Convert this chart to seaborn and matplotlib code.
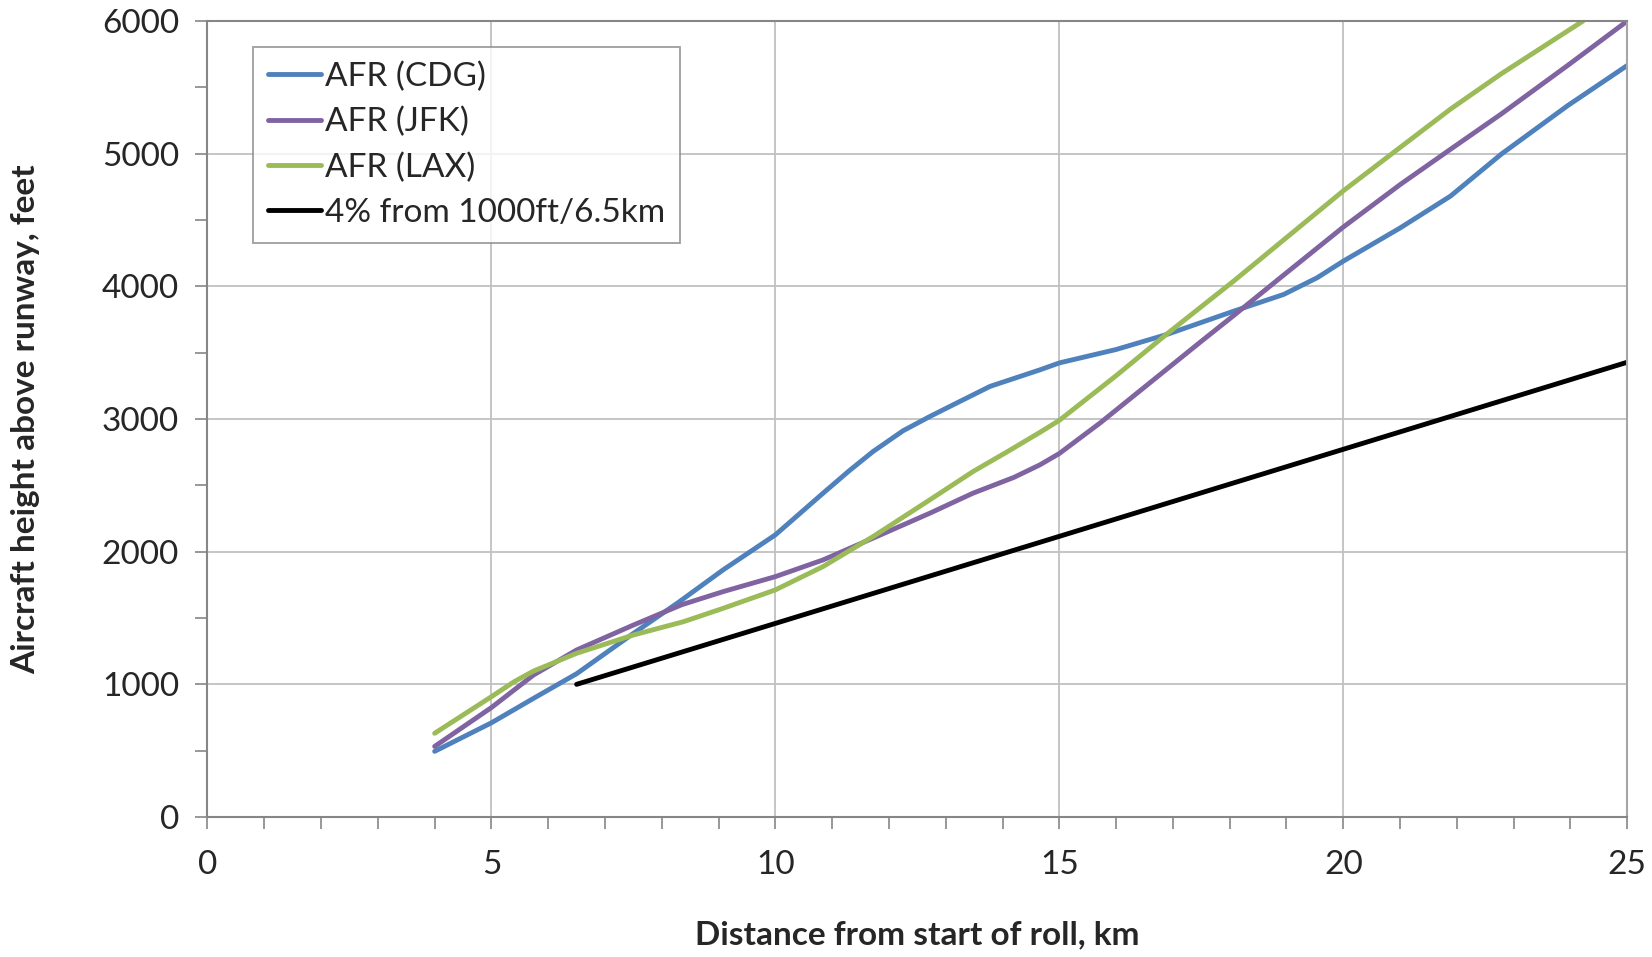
import pandas as pd
import numpy as np
import matplotlib
matplotlib.use("Agg")
import matplotlib.pyplot as plt
from matplotlib.ticker import MultipleLocator
import seaborn as sns

sns.set_style("white")
plt.rcParams['font.family'] = ['Lato', 'DejaVu Sans']

# values (km, feet)
cdg_km = [4, 5, 5.74, 6.5, 7.5, 8.3, 9.08, 10, 10.84, 11.3, 11.72, 12.25, 12.72, 13.19, 13.78,
          14.66, 15, 16, 16.89, 18.07, 18.95, 19.54, 20, 21, 21.89, 22.78, 23.95, 25]
cdg_ft = [495, 710, 894, 1080, 1384, 1620, 1863, 2127, 2441, 2610, 2755, 2912, 3019, 3120, 3246,
          3371, 3423, 3524, 3637, 3813, 3939, 4065, 4190, 4440, 4681, 4996, 5362, 5665]

jfk_km = [4, 5, 5.74, 6.5, 7.5, 8.35, 9.08, 10, 10.84, 11.72, 12.72, 13.48, 14.2, 14.66, 15,
          15.72, 16.6, 17.48, 18.07, 18.95, 20, 21.01, 21.89, 22.78, 23.95, 25]
jfk_ft = [532, 825, 1070, 1259, 1447, 1600, 1699, 1812, 1938, 2102, 2290, 2441, 2560, 2655, 2740,
          2971, 3275, 3579, 3780, 4085, 4447, 4770, 5034, 5299, 5665, 6000]

lax_km = [4, 5, 5.4, 5.74, 6.5, 7.5, 8.38, 9.08, 10, 10.84, 11.72, 12.72, 13.48, 14.07, 14.66, 15,
          16.01, 16.89, 18.07, 18.95, 20, 21.01, 21.89, 22.78, 24.22]
lax_ft = [631, 907, 1020, 1100, 1234, 1372, 1472, 1573, 1712, 1888, 2114, 2391, 2604, 2750, 2900,
          2990, 3330, 3640, 4040, 4350, 4720, 5050, 5337, 5602, 6000]

ref_km = [6.5, 25]
ref_ft = [1000, 3428]

names = ['AFR (CDG)', 'AFR (JFK)', 'AFR (LAX)', '4% from 1000ft/6.5km']
colors = ['#4F81BD', '#8064A2', '#9BBB59', '#000000']

frames = []
for name, xs, ys in zip(names, [cdg_km, jfk_km, lax_km, ref_km], [cdg_ft, jfk_ft, lax_ft, ref_ft]):
    frames.append(pd.DataFrame({'km': xs, 'ft': ys, 'series': name}))
df = pd.concat(frames, ignore_index=True)

fig = plt.figure(figsize=(16.52, 9.57), dpi=100)
ax = fig.add_axes([0.1256, 0.1463, 0.8594, 0.8317])

ax.grid(True, which='major', color='#C0C0C0', linewidth=1.3)
ax.set_axisbelow(True)

sns.lineplot(data=df, x='km', y='ft', hue='series', hue_order=names,
             palette=dict(zip(names, colors)), estimator=None, sort=False,
             linewidth=3.5, ax=ax)
for line in ax.get_lines():
    line.set_solid_capstyle('round')
    line.set_solid_joinstyle('round')

ax.set_xlim(0, 25)
ax.set_ylim(0, 6000)
ax.xaxis.set_major_locator(MultipleLocator(5))
ax.xaxis.set_minor_locator(MultipleLocator(1))
ax.yaxis.set_major_locator(MultipleLocator(1000))
ax.yaxis.set_minor_locator(MultipleLocator(500))
ax.tick_params(which='both', direction='out', length=8.5, width=1.2, color='#868686',
               labelsize=24, bottom=True, left=True)
ax.tick_params(axis='x', pad=15)
ax.tick_params(axis='y', pad=12)

for side in ['left', 'bottom', 'top']:
    ax.spines[side].set_color('#868686')
    ax.spines[side].set_linewidth(1.5)
ax.spines['right'].set_color('#A6A6A6')
ax.spines['right'].set_linewidth(1.5)

ax.set_xlabel('Distance from start of roll, km', fontsize=24, fontweight='bold')
ax.set_ylabel('Aircraft height above runway, feet', fontsize=24, fontweight='bold')
ax.xaxis.set_label_coords(0.5, -0.13)
ax.yaxis.set_label_coords(-0.118, 0.5)

leg = ax.legend(loc='upper left', bbox_to_anchor=(0.032, 0.968), fontsize=24,
                frameon=True, fancybox=False, handlelength=1.6, handletextpad=0.1,
                borderpad=0.45, labelspacing=0.45, borderaxespad=0)
leg.get_frame().set_edgecolor('#868686')
leg.get_frame().set_linewidth(1.3)
for line in leg.get_lines():
    line.set_linewidth(3.5)

fig.savefig('out.png', dpi=100)
